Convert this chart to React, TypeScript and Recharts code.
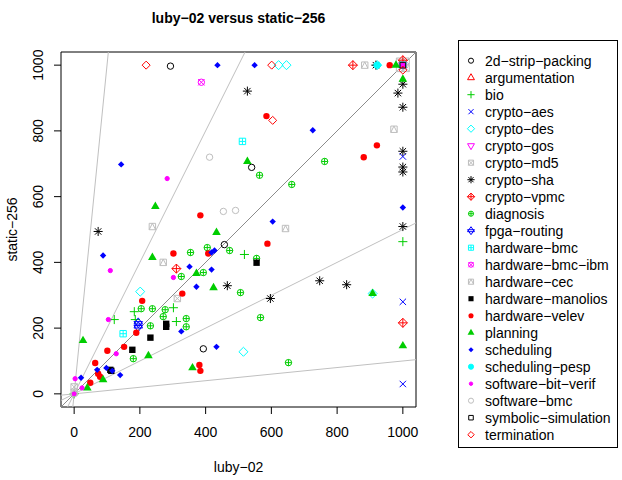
import React from 'react';
import { ScatterChart, Scatter, XAxis, YAxis, ReferenceLine, ReferenceArea } from 'recharts';

type Pt = [number, number];

// family names, in legend order (symbol = index + 1, colour cycles every 7)
const families = [
  '2d−strip−packing', 'argumentation', 'bio', 'crypto−aes', 'crypto−des', 'crypto−gos',
  'crypto−md5', 'crypto−sha', 'crypto−vpmc', 'diagnosis', 'fpga−routing', 'hardware−bmc',
  'hardware−bmc−ibm', 'hardware−cec', 'hardware−manolios', 'hardware−velev', 'planning',
  'scheduling', 'scheduling−pesp', 'software−bit−verif', 'software−bmc',
  'symbolic−simulation', 'termination',
];

const palette = ['#000000', '#FF0000', '#00CD00', '#0000FF', '#00FFFF', '#FF00FF', '#BEBEBE'];

// luby-02 (x) vs static-256 (y), seconds
const stripPacking: Pt[] = [[293, 997], [540, 689], [393, 137], [457, 454], [1000, 1000]];
const argumentation: Pt[] = [[1000, 1000]];
const bio: Pt[] = [[1000, 463], [518, 424], [122, 226], [183, 250], [186, 226], [302, 262], [311, 220], [0, 0]];
const cryptoAes: Pt[] = [[1000, 722], [1000, 280], [1000, 30]];
const cryptoDes: Pt[] = [[622, 1000], [646, 1000], [201, 311], [515, 128], [908, 305], [922, 1000]];
const cryptoGos: Pt[] = [[1000, 1000]];
const cryptoMd5: Pt[] = [[314, 290], [0, 21], [1000, 1000], [990, 1012], [1010, 990], [1010, 1012], [990, 990]];
const cryptoSha: Pt[] = [
  [527, 921], [918, 1000], [1000, 942], [985, 915], [1000, 872], [1000, 738], [1000, 690],
  [1000, 675], [1000, 509], [597, 290], [747, 344], [829, 332], [73, 494], [466, 329],
];
const cryptoVpmc: Pt[] = [[848, 1000], [1000, 1015], [1000, 216], [311, 381]];
const diagnosis: Pt[] = [
  [762, 707], [662, 637], [564, 665], [567, 232], [652, 95], [405, 445], [354, 430], [473, 436],
  [555, 412], [506, 308], [326, 357], [393, 369], [204, 259], [238, 259], [277, 256], [271, 235],
  [341, 229], [341, 204], [232, 207], [180, 107],
];
const fpgaRouting: Pt[] = [[195, 216], [195, 204]];
const hardwareBmc: Pt[] = [[512, 768], [149, 183], [1000, 1000]];
const hardwareBmcIbm: Pt[] = [[387, 948], [1000, 1000]];
const hardwareCec: Pt[] = [[884, 1000], [973, 805], [238, 509], [271, 400], [643, 503], [0, 5]];
const hardwareManolios: Pt[] = [[555, 399], [280, 213], [280, 204], [232, 171], [177, 134], [110, 73], [113, 70]];
const hardwareVelev: Pt[] = [
  [585, 845], [921, 756], [881, 720], [960, 1000], [384, 543], [588, 457], [302, 427], [408, 427],
  [329, 305], [207, 283], [189, 186], [152, 143], [101, 131], [64, 94], [73, 61], [79, 52],
  [49, 34], [381, 88], [384, 70],
];
const planning: Pt[] = [
  [247, 570], [527, 707], [979, 1000], [1000, 957], [908, 305], [1000, 146], [433, 491], [238, 415],
  [372, 366], [424, 323], [27, 162], [226, 116], [360, 79], [88, 43], [40, 18],
];
const scheduling: Pt[] = [
  [436, 1000], [549, 1000], [143, 698], [726, 802], [1000, 567], [604, 524], [88, 421], [418, 430],
  [427, 436], [351, 387], [418, 378], [372, 326], [326, 190], [433, 143], [98, 79], [116, 70],
  [140, 57], [70, 73], [21, 49], [1000, 1000],
];
const schedulingPesp: Pt[] = [[922, 1000]];
const softwareBitVerif: Pt[] = [[283, 655], [110, 375], [104, 226], [302, 354], [128, 122], [3, 46], [24, 18], [0, 0], [1000, 1000]];
const softwareBmc: Pt[] = [[412, 720], [454, 555], [491, 558], [0, 0], [1000, 1000]];
const symbolicSimulation: Pt[] = [[1000, 1000]];
const termination: Pt[] = [[219, 1000], [601, 1000], [604, 832], [1000, 985]];

const seriesData: Pt[][] = [
  stripPacking, argumentation, bio, cryptoAes, cryptoDes, cryptoGos, cryptoMd5, cryptoSha,
  cryptoVpmc, diagnosis, fpgaRouting, hardwareBmc, hardwareBmcIbm, hardwareCec, hardwareManolios,
  hardwareVelev, planning, scheduling, schedulingPesp, softwareBitVerif, softwareBmc,
  symbolicSimulation, termination,
];

const axisTicks = [0, 200, 400, 600, 800, 1000];
const guideSlopes = [10, 2, 1, 0.5, 0.1];
const lo = -40;
const hi = 1040;

const FONT = '"Liberation Sans", Arial, sans-serif';

// R-style plotting symbols
function Sym({ pch, color, cx, cy, k = 1 }: { pch: number; color: string; cx: number; cy: number; k?: number }) {
  const r = 3.2 * k;
  const s = { stroke: color, strokeWidth: 1, fill: 'none' };
  const f = { fill: color, stroke: 'none' };
  const tri = (up: boolean) => {
    const a = 1.555 * r, b = 0.778 * r, w = 1.347 * r;
    const d = up ? 1 : -1;
    return `${cx},${cy - d * a} ${cx + w},${cy + d * b} ${cx - w},${cy + d * b}`;
  };
  const diamond = (h: number) => `${cx},${cy - h} ${cx + h},${cy} ${cx},${cy + h} ${cx - h},${cy}`;
  const plus = (h: number) => `M${cx - h},${cy}H${cx + h}M${cx},${cy - h}V${cy + h}`;
  const cross = (h: number) => `M${cx - h},${cy - h}L${cx + h},${cy + h}M${cx - h},${cy + h}L${cx + h},${cy - h}`;
  const sq = (h: number) => `M${cx - h},${cy - h}H${cx + h}V${cy + h}H${cx - h}Z`;
  switch (pch) {
    case 1: return <circle cx={cx} cy={cy} r={r} {...s} />;
    case 2: return <polygon points={tri(true)} {...s} />;
    case 3: return <path d={plus(1.414 * r)} {...s} />;
    case 4: return <path d={cross(r)} {...s} />;
    case 5: return <polygon points={diamond(1.414 * r)} {...s} />;
    case 6: return <polygon points={tri(false)} {...s} />;
    case 7: return <path d={sq(r) + cross(r)} {...s} />;
    case 8: return <path d={cross(r) + plus(1.414 * r)} {...s} />;
    case 9: return <g><polygon points={diamond(1.414 * r)} {...s} /><path d={plus(1.414 * r)} {...s} /></g>;
    case 10: return <g><circle cx={cx} cy={cy} r={r} {...s} /><path d={plus(r)} {...s} /></g>;
    case 11: {
      const a = 1.555 * r, b = 1.167 * r, w = 1.347 * r;
      return (
        <g>
          <polygon points={`${cx},${cy - a} ${cx + w},${cy + b - a / 2} ${cx - w},${cy + b - a / 2}`} {...s} />
          <polygon points={`${cx},${cy + a} ${cx + w},${cy - b + a / 2} ${cx - w},${cy - b + a / 2}`} {...s} />
        </g>
      );
    }
    case 12: return <path d={sq(r) + plus(r)} {...s} />;
    case 13: return <g><circle cx={cx} cy={cy} r={r} {...s} /><path d={cross(r)} {...s} /></g>;
    case 14: return <path d={sq(r) + `M${cx - r},${cy + r}L${cx},${cy - r}L${cx + r},${cy + r}`} {...s} />;
    case 15: return <path d={sq(r)} {...f} />;
    case 16: return <circle cx={cx} cy={cy} r={r} {...f} />;
    case 17: return <polygon points={tri(true)} {...f} />;
    case 18: return <polygon points={diamond(r)} {...f} />;
    case 19: return <circle cx={cx} cy={cy} r={r} fill={color} stroke={color} />;
    case 20: return <circle cx={cx} cy={cy} r={r * 0.67} fill={color} stroke={color} />;
    case 21: return <circle cx={cx} cy={cy} r={r} {...s} />;
    case 22: return <path d={sq(r * 0.886)} {...s} />;
    default: return <polygon points={diamond(r * 1.2533)} {...s} />;
  }
}

const XTick = (props: any) => (
  <text x={props.x} y={props.y + 21} textAnchor="middle" fontSize={14} fontFamily={FONT} fill="#000">
    {props.payload.value}
  </text>
);

const YTick = (props: any) => {
  const x = props.x - 9;
  return (
    <text x={x} y={props.y} transform={`rotate(-90 ${x} ${props.y})`} textAnchor="middle" fontSize={14} fontFamily={FONT} fill="#000">
      {props.payload.value}
    </text>
  );
};

function segmentFor(slope: number) {
  if (slope >= 1) return [{ x: lo / slope, y: lo }, { x: hi / slope, y: hi }];
  return [{ x: lo, y: lo * slope }, { x: hi, y: hi * slope }];
}

export default function App() {
  return (
    <div style={{ position: 'absolute', left: 0, top: 0, width: 622, height: 480, background: '#fff' }}>
      <ScatterChart width={622} height={480} margin={{ top: 52, right: 206, bottom: 0, left: 0 }}>
        <XAxis
          type="number" dataKey="x" domain={[lo, hi]} allowDataOverflow ticks={axisTicks}
          axisLine={false} tickLine={{ stroke: '#000' }} tickSize={7} tickMargin={2} height={73} tick={XTick}
        />
        <YAxis
          type="number" dataKey="y" domain={[lo, hi]} allowDataOverflow ticks={axisTicks}
          axisLine={false} tickLine={{ stroke: '#000' }} tickSize={7} tickMargin={2} width={61} tick={YTick}
        />
        {guideSlopes.map((m) => (
          <ReferenceLine key={m} segment={segmentFor(m)} stroke={m === 1 ? '#8c8c8c' : '#c0c0c0'} strokeWidth={1} />
        ))}
        {seriesData.map((pts, i) => (
          <Scatter
            key={families[i]}
            name={families[i]}
            data={pts.map(([x, y]) => ({ x, y }))}
            isAnimationActive={false}
            shape={(p: any) => <Sym pch={i + 1} color={palette[i % 7]} cx={p.cx} cy={p.cy} />}
          />
        ))}
        <ReferenceArea x1={lo} x2={hi} y1={lo} y2={hi} fill="none" fillOpacity={0} stroke="#000" strokeWidth={1} />
      </ScatterChart>

      <svg width={622} height={480} style={{ position: 'absolute', left: 0, top: 0, pointerEvents: 'none' }}>
        <text x={238.5} y={23} textAnchor="middle" fontSize={14} fontWeight="bold" fontFamily={FONT}>
          luby−02 versus static−256
        </text>
        <text x={238.5} y={472} textAnchor="middle" fontSize={14} fontFamily={FONT}>luby−02</text>
        <text x={17} y={229.5} transform="rotate(-90 17 229.5)" textAnchor="middle" fontSize={14} fontFamily={FONT}>
          static−256
        </text>
        <rect x={458.5} y={40.5} width={159} height={407} fill="none" stroke="#000" />
        {families.map((name, i) => {
          const cy = 60.7 + 17 * i;
          return (
            <g key={name}>
              <Sym pch={i + 1} color={palette[i % 7]} cx={471} cy={cy} k={0.8} />
              <text x={485} y={cy + 5} fontSize={14} fontFamily={FONT}>{name}</text>
            </g>
          );
        })}
      </svg>
    </div>
  );
}
